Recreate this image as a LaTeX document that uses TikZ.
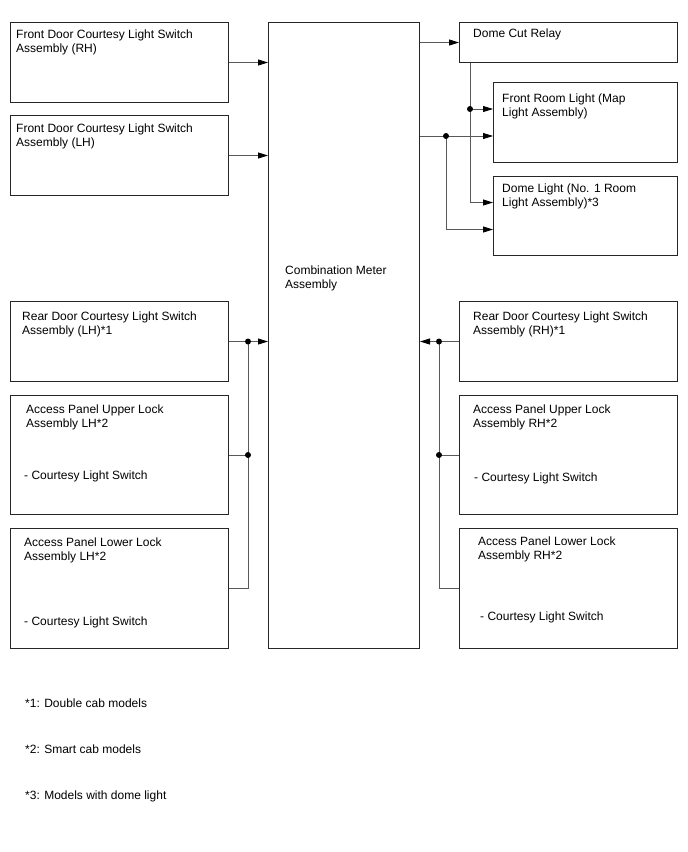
\documentclass[tikz,border=0pt]{standalone}
\usepackage{fontspec}
\setmainfont{Liberation Sans}
\usetikzlibrary{arrows.meta}
\begin{document}
\begin{tikzpicture}[x=1pt,y=-1pt,
  box/.style={draw=black!85,line width=1pt,inner sep=0,anchor=north west},
  txt/.style={anchor=north west,inner sep=0,align=left,font=\fontsize{12}{14}\selectfont},
  wire/.style={draw=black!65,line width=0.8pt},
  arr/.style={wire,-{Triangle[length=10pt,width=6pt,color=black]}},
  jdot/.style={circle,fill=black,inner sep=0,minimum size=6pt}]
\useasboundingbox (0,0) rectangle (688,852);
\newcommand\mybox[5]{\node[box,minimum width=#4,minimum height=#5] (#1) at (#2,#3) {};}
% boxes
\mybox{fdrh}{10}{22}{218}{80}
\mybox{fdlh}{10}{115}{218}{80}
\mybox{comb}{268}{22}{151}{626}
\mybox{relay}{459}{22}{218}{40}
\mybox{front}{493}{82}{184}{80}
\mybox{dome}{493}{176}{184}{79}
\mybox{rdlh}{10}{301}{218}{80}
\mybox{aulh}{10}{395}{218}{119}
\mybox{allh}{10}{528}{218}{120}
\mybox{rdrh}{459}{301}{218}{80}
\mybox{aurh}{459}{395}{218}{119}
\mybox{alrh}{459}{528}{218}{120}
% texts
\node[txt] (tfdrh) at (16,30) {Front Door Courtesy Light Switch\\Assembly (RH)};
\node[txt] (tfdlh) at (16,124) {Front Door Courtesy Light Switch\\Assembly (LH)};
\node[txt] (tcomb) at (285,266) {Combination Meter\\Assembly};
\node[txt] (trelay) at (473,29) {Dome Cut Relay};
\node[txt] (tfront) at (502,94) {Front Room Light (Map\\Light Assembly)};
\node[txt] (tdome) at (502,184) {Dome Light (No. 1 Room\\Light Assembly)*3};
\node[txt] (trdlh) at (22,312) {Rear Door Courtesy Light Switch\\Assembly (LH)*1};
\node[txt] (taulh) at (26,405) {Access Panel Upper Lock\\Assembly LH*2};
\node[txt] (taulhs) at (24,471) {- Courtesy Light Switch};
\node[txt] (tallh) at (24,538) {Access Panel Lower Lock\\Assembly LH*2};
\node[txt] (tallhs) at (24,617) {- Courtesy Light Switch};
\node[txt] (trdrh) at (473,312) {Rear Door Courtesy Light Switch\\Assembly (RH)*1};
\node[txt] (taurh) at (473,405) {Access Panel Upper Lock\\Assembly RH*2};
\node[txt] (taurhs) at (474,473) {- Courtesy Light Switch};
\node[txt] (talrh) at (478,537) {Access Panel Lower Lock\\Assembly RH*2};
\node[txt] (talrhs) at (480,612) {- Courtesy Light Switch};
\node[txt] (fn1) at (25,699) {*1: Double cab models};
\node[txt] (fn2) at (25,745) {*2: Smart cab models};
\node[txt] (fn3) at (25,791) {*3: Models with dome light};
% helper coordinates
\coordinate (jl) at (248,0);
\coordinate (jr) at (439,0);
\coordinate (jv) at (470,0);
\coordinate (jc) at (446,0);
\coordinate (fr1) at ([yshift=13.5pt]front.west);
\coordinate (fr2) at ([yshift=-13.5pt]front.west);
\coordinate (dl1) at ([yshift=13.5pt]dome.west);
\coordinate (dl2) at ([yshift=-13.5pt]dome.west);
% left connectors
\draw[arr] (fdrh.east) -- (fdrh.east -| comb.west);
\draw[arr] (fdlh.east) -- (fdlh.east -| comb.west);
\draw[arr] (rdlh.east) -- (rdlh.east -| comb.west);
\draw[wire] (rdlh.east -| jl) |- (allh.east);
\draw[wire] (aulh.east) -- (aulh.east -| jl);
\node[jdot] (dl_a) at (rdlh.east -| jl) {};
\node[jdot] (dl_b) at (aulh.east -| jl) {};
% right connectors
\draw[arr] (rdrh.west) -- (rdrh.west -| comb.east);
\draw[wire] (rdrh.west -| jr) |- (alrh.west);
\draw[wire] (aurh.west) -- (aurh.west -| jr);
\node[jdot] (dr_a) at (rdrh.west -| jr) {};
\node[jdot] (dr_b) at (aurh.west -| jr) {};
% top right
\draw[arr] (relay.west -| comb.east) -- (relay.west);
\draw[arr] (relay.south -| jv) |- (dl1);
\draw[arr] (fr1 -| jv) -- (fr1);
\node[jdot] (dt_a) at (fr1 -| jv) {};
\draw[arr] (fr2 -| comb.east) -- (fr2);
\draw[arr] (fr2 -| jc) |- (dl2);
\node[jdot] (dt_b) at (fr2 -| jc) {};
\end{tikzpicture}
\end{document}
